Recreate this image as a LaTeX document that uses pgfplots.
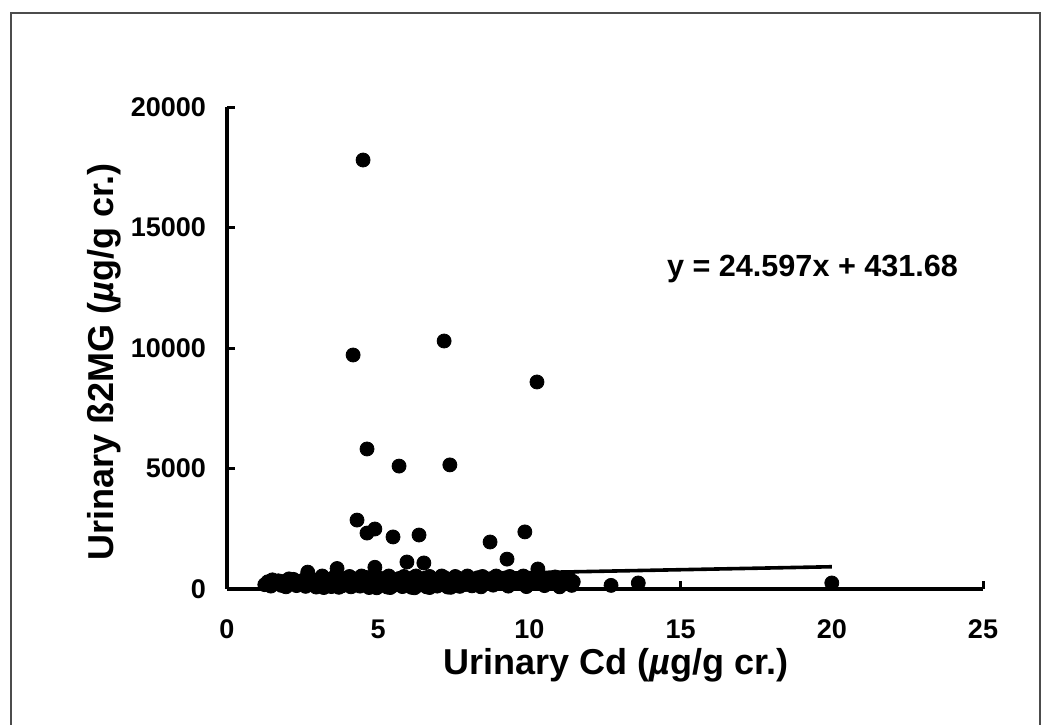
\documentclass[border=0pt]{standalone}
\usepackage{fontspec}
\setmainfont{Liberation Sans}
\usepackage{pgfplots}
\pgfplotsset{compat=1.18}
\pgfplotstableread{
x y
1.25 180
1.45 120
1.6 230
1.8 150
1.95 90
2.1 210
2.3 140
2.45 260
2.6 110
2.8 190
2.95 80
3.1 230
3.3 150
3.45 100
3.6 210
3.8 130
3.95 250
4.1 90
4.25 170
4.4 120
4.55 220
4.7 60
4.85 160
5.0 110
5.15 200
5.3 80
5.5 150
5.65 230
5.8 100
5.95 180
6.1 70
6.3 140
6.45 210
6.6 90
6.8 160
6.95 120
7.1 200
7.3 80
7.5 150
7.7 110
7.9 190
8.1 130
8.4 90
8.8 160
9.3 120
9.9 100
10.5 140
11.0 90
11.4 150
1.5 380
1.9 320
2.2 400
2.5 350
2.75 450
3.0 380
3.25 420
3.5 360
3.7 470
3.9 400
4.15 440
4.35 380
4.6 480
4.8 420
5.05 390
5.25 460
5.45 400
5.7 440
5.9 380
6.15 470
6.35 410
6.55 450
6.75 390
7.0 430
7.2 470
7.45 400
7.65 450
7.85 380
8.05 440
8.3 470
8.55 400
8.75 430
9.0 380
9.2 460
9.45 420
9.7 450
9.95 390
10.2 430
10.45 400
10.7 360
10.95 420
11.2 350
11.45 300
2.0 280
2.7 300
3.4 290
4.0 310
4.5 300
5.2 320
5.8 290
6.4 300
7.2 310
7.8 280
8.5 260
9.6 250
10.3 270
11.1 240
1.35 300
1.7 340
2.05 420
2.35 310
2.65 520
2.9 330
3.15 540
3.35 310
3.55 500
3.75 320
4.05 520
4.3 300
4.45 540
4.75 330
4.95 520
5.1 300
5.35 540
5.6 320
5.85 520
6.05 330
6.25 540
6.5 320
6.7 520
6.9 330
7.1 540
7.35 320
7.55 520
7.75 330
7.95 540
8.2 320
8.45 520
8.65 330
8.9 540
9.1 320
9.35 520
9.55 340
9.8 540
10.05 320
10.35 520
10.6 330
10.85 500
11.05 320
11.3 470
3.2 60
3.7 70
4.95 50
5.4 60
6.2 50
6.7 60
7.4 70
2.67 700
3.64 850
4.89 900
10.28 830
5.95 1120
6.51 1080
9.26 1240
4.3 2860
4.63 2320
4.89 2490
5.49 2160
6.35 2240
8.7 1950
9.85 2370
4.63 5810
5.69 5100
7.37 5150
4.17 9710
7.18 10290
10.25 8590
4.5 17800
12.7 150
13.6 250
20.0 250
}\scatterdata
\begin{document}
\begin{tikzpicture}[x=0.5pt,y=0.5pt]
\useasboundingbox (0,0) rectangle (1045,724);
\draw[black!70, line width=0.9pt] (11,-20) -- (11,711) -- (1040,711) -- (1040,-20);
\begin{axis}[at={(113.5pt,67.5pt)}, anchor=south west, scale only axis,
  width=378pt, height=241pt,
  xmin=0, xmax=25, ymin=0, ymax=20000,
  axis x line=bottom, axis y line=left,
  axis line style={-, line width=2pt, black},
  xtick={0,5,...,25}, ytick={0,5000,...,20000},
  tick align=inside, major tick length=4pt,
  tick style={line width=1.5pt, black},
  scaled y ticks=false,
  /pgf/number format/.cd, 1000 sep={}, assume math mode=true,
  /pgfplots/.cd,
  ticklabel style={font=\bfseries\fontsize{13.5}{13.5}\selectfont},
  xticklabel style={yshift=-12pt},
  yticklabel style={xshift=-7pt},
]
\addplot[only marks, mark=*, mark size=3.5pt, black] table[x=x,y=y] {\scatterdata};
\addplot[black, line width=1.8pt] coordinates {(1.2,461.2) (20,923.6)};
\end{axis}
\node[anchor=west, font=\bfseries\fontsize{15.3}{16}\selectfont] at (660,455) {y = 24.597x + 431.68};
\node[font=\bfseries\fontsize{18}{18}\selectfont] at (616,59) {Urinary Cd (\textit{µ}g/g cr.)};
\node[rotate=90, font=\bfseries\fontsize{18}{18}\selectfont] at (104,362) {Urinary ß2MG (\textit{µ}g/g cr.)};
\end{tikzpicture}
\end{document}
